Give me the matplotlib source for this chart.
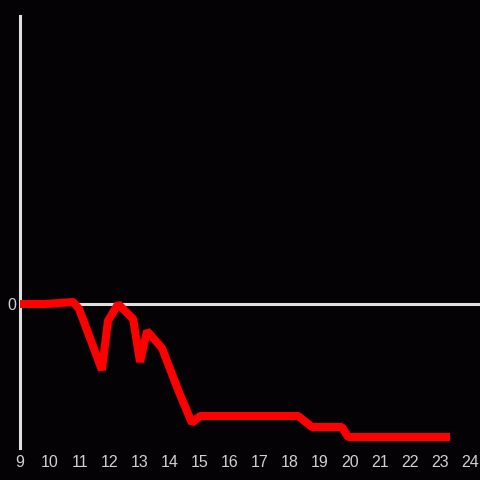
import matplotlib
matplotlib.use("Agg")
import matplotlib.pyplot as plt

plt.rcParams["font.family"] = ["Liberation Sans", "DejaVu Sans"]

# values (hour of day, level)
hours = [9.0, 9.83, 10.77, 10.97, 11.73, 11.93, 12.27, 12.77, 13.0, 13.23,
         13.73, 14.27, 14.73, 15.0, 18.27, 18.73, 19.73, 19.93, 23.33]
level = [0, 0, 2, -5, -66, -17, 0, -15, -58, -27,
         -44, -86, -119, -112, -112, -123, -123, -133, -133]
xticks = list(range(9, 25))

bg = "#050205"
axis_col = "#e0e0e0"

fig = plt.figure(figsize=(4.8, 4.8), dpi=100, facecolor=bg)
ax = fig.add_axes([20/480, 32/480, 460/480, 432/480], facecolor=bg)

ax.axhline(0, color=axis_col, lw=2.2, zorder=1)
ax.plot(hours, level, color="#ff0000", lw=5.8, zorder=3,
        solid_joinstyle="bevel", solid_capstyle="butt")

ax.set_xlim(9, 24.33)
ax.set_ylim(-144, 288)

for s in ["top", "right", "bottom"]:
    ax.spines[s].set_visible(False)
ax.spines["left"].set_color(axis_col)
ax.spines["left"].set_linewidth(2.2)
ax.spines["left"].set_zorder(2)

ax.set_xticks(xticks)
ax.set_xticklabels([str(t) for t in xticks])
ax.set_yticks([0])
ax.set_yticklabels(["0"])
ax.tick_params(length=0, colors="#d0d0d0", labelsize=11.5)
ax.tick_params(axis="x", pad=5)
ax.tick_params(axis="y", pad=3)

fig.savefig("out.png", dpi=100, facecolor=bg)
